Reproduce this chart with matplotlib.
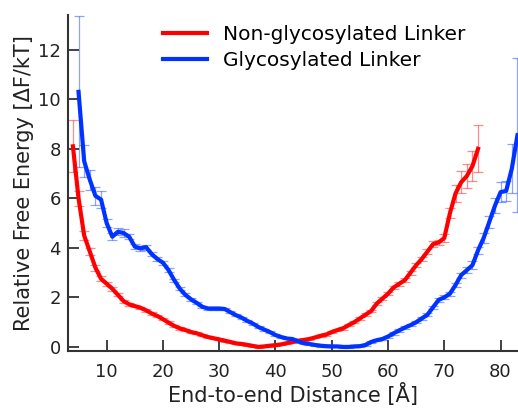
import numpy as np
import matplotlib
matplotlib.use("Agg")
import matplotlib.pyplot as plt

# free energy profiles, 1 A spacing
red_x = np.arange(4, 77)
red_y = [8.1, 6.0, 4.5, 3.85, 3.2, 2.75, 2.55, 2.35, 2.1, 1.85,
         1.72, 1.65, 1.58, 1.48, 1.35, 1.25, 1.12, 0.98, 0.85, 0.75,
         0.68, 0.6, 0.55, 0.47, 0.4, 0.35, 0.3, 0.25, 0.2, 0.14,
         0.12, 0.08, 0.04, 0.0, 0.02, 0.05, 0.07, 0.1, 0.15, 0.2,
         0.25, 0.28, 0.32, 0.38, 0.45, 0.5, 0.6, 0.68, 0.75, 0.88,
         1.0, 1.15, 1.3, 1.45, 1.75, 1.95, 2.15, 2.4, 2.55, 2.7,
         3.0, 3.3, 3.55, 3.85, 4.15, 4.22, 4.4, 5.4, 6.2, 6.65,
         6.9, 7.3, 8.0]
red_err = [1.05, 0.3, 0.2, 0.15, 0.12, 0.1, 0.08, 0.08, 0.06, 0.06,
           0.05, 0.05, 0.05, 0.05, 0.05, 0.05, 0.05, 0.05, 0.05, 0.05,
           0.04, 0.04, 0.04, 0.04, 0.04, 0.04, 0.04, 0.04, 0.04, 0.04,
           0.04, 0.04, 0.04, 0.04, 0.04, 0.04, 0.04, 0.04, 0.04, 0.04,
           0.04, 0.04, 0.04, 0.04, 0.04, 0.04, 0.04, 0.05, 0.05, 0.05,
           0.05, 0.05, 0.05, 0.06, 0.06, 0.06, 0.07, 0.07, 0.08, 0.08,
           0.08, 0.09, 0.1, 0.1, 0.12, 0.1, 0.15, 0.2, 0.35, 0.45,
           0.5, 0.6, 0.95]

blue_x = np.arange(5, 84)
blue_y = [10.3, 7.5, 6.75, 6.1, 5.95, 5.0, 4.45, 4.65, 4.6, 4.45,
          4.05, 3.98, 4.03, 3.75, 3.55, 3.4, 3.1, 2.7, 2.35, 2.1,
          1.92, 1.78, 1.62, 1.55, 1.55, 1.55, 1.53, 1.4, 1.28, 1.18,
          1.05, 0.94, 0.8, 0.7, 0.6, 0.48, 0.4, 0.34, 0.32, 0.22,
          0.15, 0.12, 0.08, 0.05, 0.03, 0.02, 0.02, 0.0, 0.0, 0.02,
          0.03, 0.08, 0.2, 0.27, 0.32, 0.42, 0.55, 0.67, 0.78, 0.88,
          1.0, 1.15, 1.3, 1.6, 1.9, 2.0, 2.15, 2.5, 2.9, 3.1,
          3.3, 3.9, 4.4, 5.05, 5.7, 6.25, 6.3, 7.2, 8.55]
blue_err = [3.05, 0.65, 0.4, 0.35, 0.35, 0.15, 0.15, 0.15, 0.15, 0.1,
            0.1, 0.1, 0.1, 0.08, 0.08, 0.08, 0.08, 0.06, 0.06, 0.06,
            0.05, 0.05, 0.05, 0.05, 0.05, 0.05, 0.05, 0.04, 0.04, 0.04,
            0.04, 0.04, 0.04, 0.04, 0.04, 0.04, 0.04, 0.04, 0.04, 0.04,
            0.04, 0.04, 0.04, 0.04, 0.04, 0.04, 0.04, 0.04, 0.04, 0.04,
            0.04, 0.04, 0.04, 0.04, 0.04, 0.04, 0.05, 0.05, 0.05, 0.05,
            0.05, 0.06, 0.06, 0.07, 0.07, 0.08, 0.08, 0.1, 0.1, 0.12,
            0.15, 0.15, 0.2, 0.25, 0.3, 0.4, 0.4, 1.0, 3.1]

red = "#ff0000"
blue = "#0033ff"

fig = plt.figure(figsize=(5.18, 4.08), dpi=100)
ax = fig.add_axes([0.131, 0.14, 0.869, 0.823])

ax.errorbar(red_x, red_y, yerr=red_err, fmt="none", ecolor=red, alpha=0.45,
            elinewidth=0.9, capsize=3.5, capthick=0.9)
ax.errorbar(blue_x, blue_y, yerr=blue_err, fmt="none", ecolor=blue, alpha=0.45,
            elinewidth=0.9, capsize=3.5, capthick=0.9)
ax.plot(red_x, red_y, color=red, lw=3, label="Non-glycosylated Linker",
        solid_joinstyle="round")
ax.plot(blue_x, blue_y, color=blue, lw=3, label="Glycosylated Linker",
        solid_joinstyle="round")

ax.set_xlim(3.1, 83.1)
ax.set_ylim(-0.16, 13.4)
ax.set_xticks([10, 20, 30, 40, 50, 60, 70, 80])
ax.set_yticks([0, 2, 4, 6, 8, 10, 12])

for s in ["top", "right"]:
    ax.spines[s].set_visible(False)
for s in ["left", "bottom"]:
    ax.spines[s].set_linewidth(1.5)
    ax.spines[s].set_color("#333333")

ax.tick_params(axis="both", direction="in", length=8, width=1.3,
               color="#333333", labelsize=13, labelcolor="#222222")
ax.tick_params(axis="x", pad=9)
ax.tick_params(axis="y", pad=5)

ax.set_xlabel("End-to-end Distance [Å]", fontsize=15, color="#222222", labelpad=1)
ax.set_ylabel("Relative Free Energy [ΔF/kT]", fontsize=15, color="#222222", labelpad=3)

ax.legend(loc="upper left", bbox_to_anchor=(0.211, 0.97), frameon=False,
          fontsize=14.5, handlelength=2.2, handletextpad=0.8, labelspacing=0.35,
          borderpad=0, borderaxespad=0)

fig.savefig("out.png", dpi=100)
